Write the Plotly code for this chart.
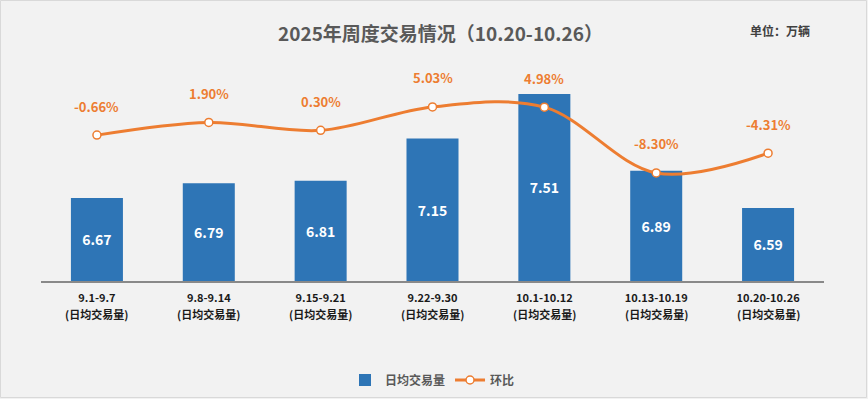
import plotly.graph_objects as go

weeks = ["9.1-9.7", "9.8-9.14", "9.15-9.21", "9.22-9.30", "10.1-10.12", "10.13-10.19", "10.20-10.26"]
sub_label = "(日均交易量)"
daily_volume = [6.67, 6.79, 6.81, 7.15, 7.51, 6.89, 6.59]
wow_pct = [-0.66, 1.90, 0.30, 5.03, 4.98, -8.30, -4.31]

BLUE = "#2E75B6"
ORANGE = "#ED7D31"
FONT = "Noto Sans CJK SC, Microsoft YaHei, sans-serif"

W, H = 868, 399
L, R, T, B = 41, 44, 58, 118
pw, ph = W - L - R, H - T - B
Y_MIN, Y_MAX = 6.0, 7.8

fig = go.Figure()
fig.add_trace(go.Bar(
    x=weeks, y=[v - Y_MIN for v in daily_volume], base=Y_MIN, name="日均交易量",
    marker=dict(color=BLUE, line=dict(width=0)),
    width=0.465,
    text=[f"{v:.2f}" for v in daily_volume],
    textposition="inside", insidetextanchor="middle",
    textfont=dict(color="white", size=14, family=FONT, weight="bold"),
    customdata=daily_volume, hovertemplate="%{x}: %{customdata}<extra></extra>",
))
fig.add_trace(go.Scatter(
    x=weeks, y=wow_pct, name="环比", yaxis="y2",
    mode="lines+markers",
    line=dict(color=ORANGE, width=3, shape="spline", smoothing=1.0),
    marker=dict(color="white", size=8, line=dict(color=ORANGE, width=1.5)),
))

for c, v in zip(weeks, wow_pct):
    fig.add_annotation(
        x=c, y=v, yref="y2", text=f"{v:.2f}%", showarrow=False,
        yshift=29, font=dict(color=ORANGE, size=13, family=FONT, weight="bold"),
    )
for c in weeks:
    fig.add_annotation(
        x=c, xref="x", yref="paper", y=-(314 - (H - B)) / ph, yanchor="middle",
        text=sub_label, showarrow=False,
        font=dict(size=11, color="#1a1a1a", family=FONT, weight="bold"),
    )

fig.add_annotation(
    xref="paper", yref="paper", x=(440 - L) / pw, y=1 + (T - 33) / ph, yanchor="middle",
    text="2025年周度交易情况（10.20-10.26）",
    showarrow=False, font=dict(size=19, color="#595959", family=FONT, weight="bold"),
)
fig.add_annotation(
    xref="paper", yref="paper", x=(812 - L) / pw, y=1 + (T - 30) / ph,
    text="单位：万辆", showarrow=False, yanchor="middle",
    font=dict(size=12, color="#404040", family=FONT, weight="bold"),
)

fig.add_shape(
    type="rect", xref="paper", yref="paper",
    x0=-(L - 0.5) / pw, x1=1 + (R - 1.5) / pw,
    y0=-(B - 1.5) / ph, y1=1 + (T - 0.5) / ph,
    line=dict(color="#D9D9D9", width=1), fillcolor="rgba(0,0,0,0)", layer="below",
)

fig.update_layout(
    width=W, height=H,
    margin=dict(l=L, r=R, t=T, b=B, pad=0, autoexpand=False),
    paper_bgcolor="#F2F2F2", plot_bgcolor="#F2F2F2",
    font=dict(family=FONT),
    showlegend=True,
    legend=dict(
        orientation="h", x=0.5, xanchor="center", y=-(380 - (H - B)) / ph, yanchor="middle",
        font=dict(size=12, color="#595959", family=FONT, weight="bold"),
        itemwidth=30, bgcolor="rgba(0,0,0,0)",
    ),
    xaxis=dict(
        showline=True, linecolor="#898989", linewidth=1.5, ticks="",
        tickfont=dict(size=11, color="#1a1a1a", family=FONT, weight="bold"),
        ticklabelstandoff=6,
        showgrid=False, zeroline=False, automargin=False,
    ),
    yaxis=dict(range=[Y_MIN, Y_MAX], visible=False, showgrid=False),
    yaxis2=dict(range=[-30.1, 14.9], overlaying="y", side="right", visible=False, showgrid=False),
)

fig.write_html(
    "out.html",
    config={"displayModeBar": False},
    post_script="document.body.style.margin='0';document.body.style.overflow='hidden';",
)
